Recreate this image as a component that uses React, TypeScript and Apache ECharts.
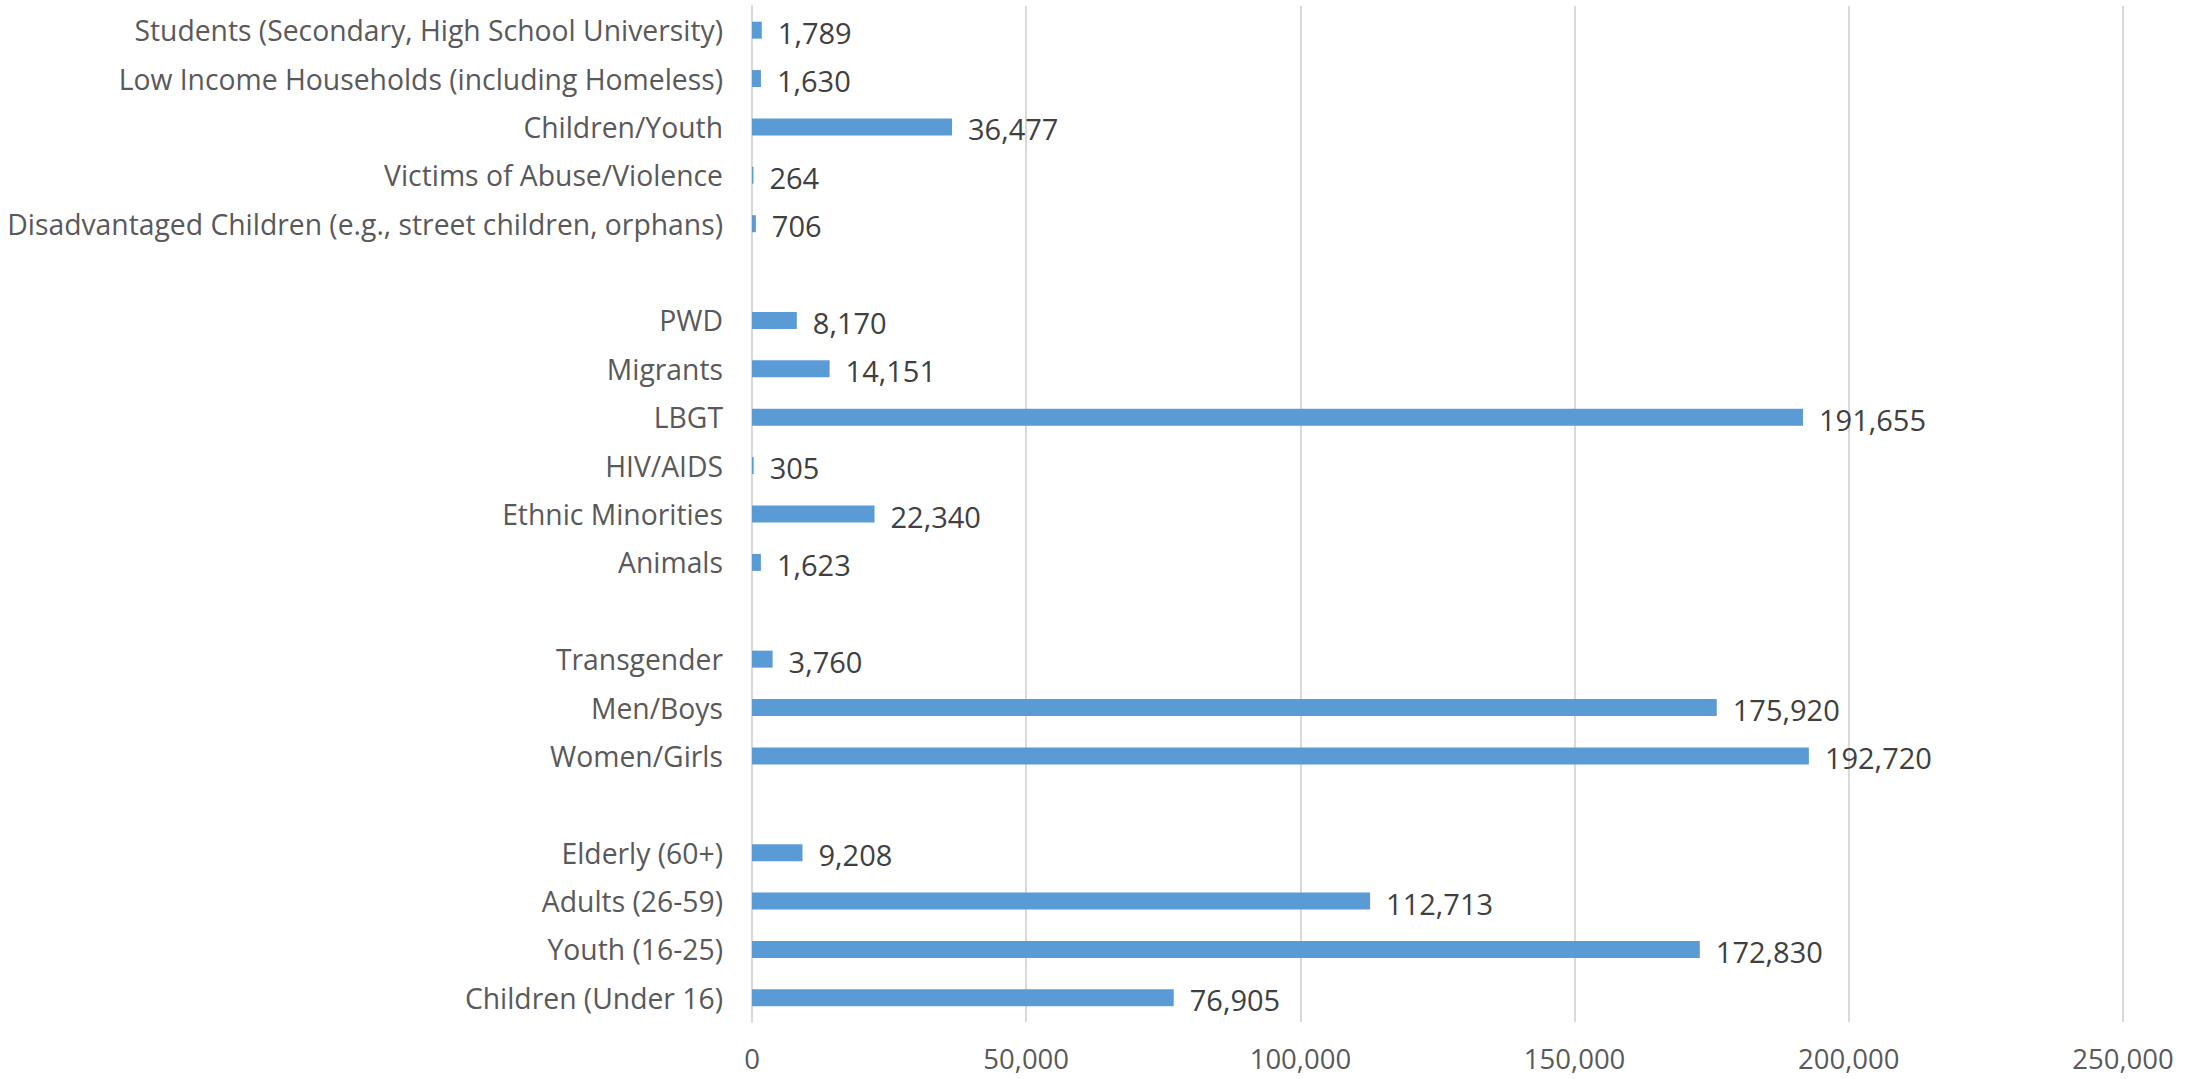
import React, { useEffect, useRef } from "react";
import * as echarts from "echarts";

// bottom-to-top order (ECharts category axis starts at the bottom)
const categories: string[] = [
  "Children (Under 16)",
  "Youth (16-25)",
  "Adults (26-59)",
  "Elderly (60+)",
  " ",
  "Women/Girls",
  "Men/Boys",
  "Transgender",
  "  ",
  "Animals",
  "Ethnic Minorities",
  "HIV/AIDS",
  "LBGT",
  "Migrants",
  "PWD",
  "   ",
  "Disadvantaged Children (e.g., street children, orphans)",
  "Victims of Abuse/Violence",
  "Children/Youth",
  "Low Income Households (including Homeless)",
  "Students (Secondary, High School University)",
];

const values: (number | null)[] = [
  76905, 172830, 112713, 9208, null,
  192720, 175920, 3760, null,
  1623, 22340, 305, 191655, 14151, 8170, null,
  706, 264, 36477, 1630, 1789,
];

const xTicks = { min: 0, max: 250000, interval: 50000 };

const FONT = "'Open Sans', 'DejaVu Sans', sans-serif";

export default function App() {
  const ref = useRef<HTMLDivElement>(null);
  useEffect(() => {
    if (!ref.current) return;
    const chart = echarts.init(ref.current, undefined, { renderer: "svg" });
    chart.setOption({
      animation: false,
      backgroundColor: "#ffffff",
      grid: { left: 752, right: 80, top: 6, bottom: 57, containLabel: false },
      xAxis: {
        type: "value",
        min: xTicks.min,
        max: xTicks.max,
        interval: xTicks.interval,
        axisLine: { show: false },
        axisTick: { show: false },
        splitLine: { show: true, lineStyle: { color: "#D9D9D9", width: 2 } },
        axisLabel: {
          color: "#595959",
          fontSize: 27.5,
          fontFamily: FONT,
          margin: 22,
          formatter: (v: number) => v.toLocaleString("en-US"),
        },
      },
      yAxis: {
        type: "category",
        data: categories,
        axisLine: { show: true, lineStyle: { color: "#D9D9D9", width: 2 } },
        axisTick: { show: false },
        splitLine: { show: false },
        axisLabel: {
          color: "#595959",
          fontSize: 28.3,
          fontFamily: FONT,
          margin: 29,
          interval: 0,
        },
      },
      series: [
        {
          type: "bar",
          data: values,
          barWidth: 17,
          itemStyle: { color: "#5B9BD5" },
          label: {
            show: true,
            position: "right",
            distance: 16,
            color: "#404040",
            fontSize: 29,
            fontFamily: FONT,
            offset: [0, 2],
            formatter: (p: any) =>
              p.value == null ? "" : Number(p.value).toLocaleString("en-US"),
          },
        },
      ],
    });
    return () => chart.dispose();
  }, []);
  return (
    <div
      ref={ref}
      style={{ position: "fixed", left: 0, top: 0, width: 2203, height: 1079 }}
    />
  );
}
